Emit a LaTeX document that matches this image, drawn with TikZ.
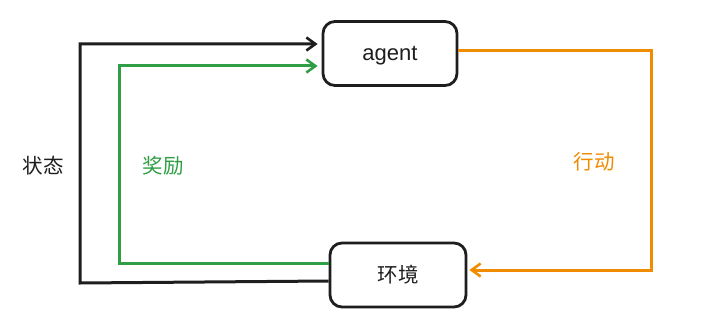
\documentclass[tikz,border=0pt]{standalone}
\usepackage{fontspec}
\setmainfont{Liberation Sans}
\newfontfamily\cjk{Noto Sans CJK SC}
\usetikzlibrary{arrows.meta}
\definecolor{ink}{HTML}{1E1E1E}
\definecolor{grn}{HTML}{2F9E44}
\definecolor{org}{HTML}{F08C00}
\tikzset{
  box/.style={draw=ink, line width=2.8pt, rounded corners=12pt, fill=white, inner sep=0pt},
  conn/.style={line width=3pt, line join=miter},
  tip/.style={-{Straight Barb[length=9pt,width=13pt,line width=2.6pt]}},
  lbl/.style={font=\cjk\fontsize{20.5}{24}\selectfont}
}
\begin{document}
\begin{tikzpicture}[x=1pt,y=-1pt]
\useasboundingbox[fill=white] (0,0) rectangle (706,334);
\node[box, minimum width=134pt, minimum height=64pt] (agent) at (390,53.5) {};
\node[font=\fontsize{22}{26}\selectfont, text=ink] (agenttxt) at (390,55.5) {agent};
\node[box, minimum width=136pt, minimum height=64pt] (env) at (398,275) {};
\node[lbl, text=ink] (envtxt) at (398,275) {环境};
\node[lbl, text=ink] (s) at (43,166) {状态};
\node[lbl, text=grn] (r) at (163,166) {奖励};
\node[lbl, text=org] (a) at (594,162) {行动};
\coordinate (b1) at (80,283);
\coordinate (b2) at (80,44);
\coordinate (g1) at (119,263);
\coordinate (g2) at (119,66);
\coordinate (o1) at (651,51);
\coordinate (o2) at (651,270);
\draw[conn, ink, tip, shorten >=4pt] ([yshift=-6pt]env.west) -- (b1) -- (b2) -- ([yshift=9.5pt]agent.west);
\draw[conn, grn, tip, shorten >=4pt] ([yshift=12pt]env.west) -- (g1) -- (g2) -- ([yshift=-12.5pt]agent.west);
\draw[conn, org, tip, shorten >=2pt] ([yshift=2.5pt]agent.east) -- (o1) -- (o2) -- ([yshift=5pt]env.east);
\end{tikzpicture}
\end{document}
